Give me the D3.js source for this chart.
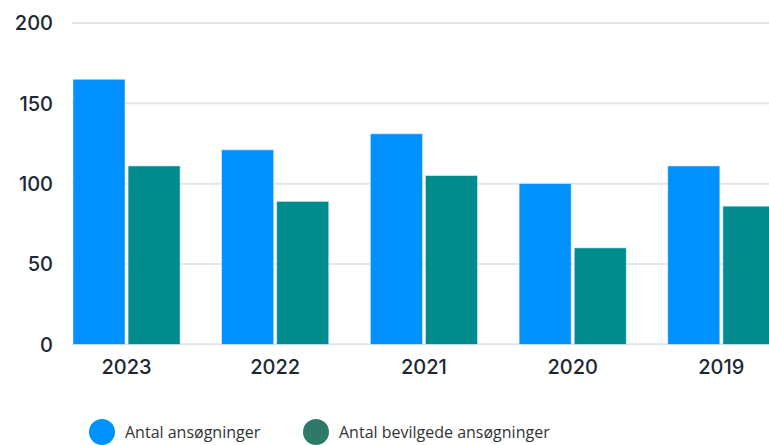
<!DOCTYPE html>
<html><head><meta charset="utf-8">
<script src="https://cdn.jsdelivr.net/npm/d3@7"></script>
<style>body{margin:0;background:#fff;overflow:hidden}svg{display:block}</style>
</head><body>
<script>
const years = ["2023","2022","2021","2020","2019"];
const seriesNames = ["Antal ansøgninger","Antal bevilgede ansøgninger"];
const applications = [165, 121, 131, 100, 111];
const granted = [111, 89, 105, 60, 86];
const yTicks = [0, 50, 100, 150, 200];
const barColors = ["#0091ff", "#008c8c"];
const legendColors = ["#0091ff", "#2e7a68"];

const W = 769, H = 445;
const svg = d3.select("body").append("svg").attr("width", W).attr("height", H);
const font = "Inter, 'Noto Sans', sans-serif";

const y = d3.scaleLinear().domain([0, 200]).range([344.3, 23]);
const x = d3.scaleBand().domain(years).range([73, 73 + 701.9]).paddingInner(0.28).paddingOuter(0);
const xs = d3.scaleBand().domain([0, 1]).range([0, x.bandwidth()]).paddingInner(0.056);

// grid
svg.append("g").selectAll("line").data(yTicks).join("line")
  .attr("x1", 72).attr("x2", W).attr("y1", d => y(d)).attr("y2", d => y(d))
  .attr("stroke", "#e2e5e9").attr("stroke-width", 2);

// y labels
svg.append("g").selectAll("text").data(yTicks).join("text")
  .attr("x", 53).attr("y", d => y(d)).attr("dy", "0.36em").attr("text-anchor", "end")
  .attr("font-family", font).attr("font-size", 20).attr("font-weight", 500).attr("fill", "#1d2733")
  .text(d => d);

// bars
const data = years.map((yr, i) => ({yr, vals: [applications[i], granted[i]]}));
const g = svg.append("g").selectAll("g").data(data).join("g").attr("transform", d => `translate(${x(d.yr)},0)`);
g.selectAll("rect").data(d => d.vals.map((v, k) => ({v, k}))).join("rect")
  .attr("x", d => xs(d.k)).attr("width", xs.bandwidth())
  .attr("y", d => y(d.v)).attr("height", d => y(0) - y(d.v))
  .attr("fill", d => barColors[d.k]).attr("stroke", "#cfe8ff").attr("stroke-width", 0.6);

// x labels
svg.append("g").selectAll("text").data(years).join("text")
  .attr("x", d => x(d) + x.bandwidth() / 2).attr("y", 367).attr("dy", "0.36em").attr("text-anchor", "middle")
  .attr("font-family", font).attr("font-size", 20).attr("font-weight", 500).attr("fill", "#1d2733")
  .text(d => d);

// legend
const legX = [102, 316];
const lg = svg.append("g").selectAll("g").data(seriesNames).join("g")
  .attr("transform", (d, i) => `translate(${legX[i]},432)`);
lg.append("circle").attr("r", 13).attr("fill", (d, i) => legendColors[i]);
lg.append("text").attr("x", 23).attr("dy", "0.36em")
  .attr("font-family", "'Open Sans', sans-serif").attr("font-size", 16).attr("fill", "#333")
  .text(d => d);
</script>
</body></html>
